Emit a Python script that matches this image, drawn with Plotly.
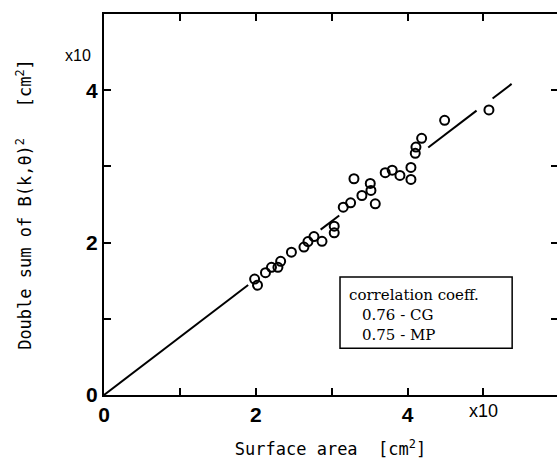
import plotly.graph_objects as go

# Data (units of x10 cm^2)
surface_area = [1.985, 2.023, 2.128, 2.207, 2.292, 2.328, 2.470, 2.635, 2.688, 2.767,
                2.873, 3.034, 3.034, 3.153, 3.250, 3.294, 3.399, 3.509, 3.518, 3.575,
                3.706, 3.798, 3.900, 4.045, 4.045, 4.102, 4.111, 4.186, 4.489, 5.073]
double_sum = [1.522, 1.441, 1.605, 1.675, 1.675, 1.754, 1.875, 1.941, 2.013, 2.079,
              2.017, 2.215, 2.128, 2.465, 2.522, 2.838, 2.618, 2.776, 2.684, 2.509,
              2.917, 2.951, 2.882, 2.987, 2.829, 3.171, 3.254, 3.368, 3.605, 3.741]

# Regression line through origin, drawn in broken segments
fit_slope = 0.76
fit_segments = [(0.0, 1.90), (2.855, 3.10), (4.273, 4.91), (5.121, 5.372)]

x_tickvals = [0, 1, 2, 3, 4, 5]
x_ticktext = ["0", "", "2", "", "4", ""]
y_tickvals = [0, 1, 2, 3, 4]
y_ticktext = ["0", "", "2", "", "4"]

legend_title = "correlation coeff."
legend_lines = ["0.76 - CG", "0.75 - MP"]

line_x, line_y = [], []
for a, b in fit_segments:
    line_x += [a, b, None]
    line_y += [fit_slope * a, fit_slope * b, None]

fig = go.Figure()
fig.add_trace(go.Scatter(x=line_x, y=line_y, mode="lines",
                         line=dict(color="black", width=2), hoverinfo="skip"))
fig.add_trace(go.Scatter(x=surface_area, y=double_sum, mode="markers",
                         marker=dict(symbol="circle-open", size=9, color="black",
                                     line=dict(width=2, color="black"))))
fig.add_trace(go.Scatter(x=[], y=[], yaxis="y2"))

tickfont = dict(family="Liberation Sans", size=21, color="black", weight="bold")
mono = "DejaVu Sans Mono"

fig.update_layout(
    width=557, height=461,
    margin=dict(l=104, r=0, t=14, b=66),
    paper_bgcolor="white", plot_bgcolor="white",
    showlegend=False,
    xaxis=dict(range=[0, 5.97], tickvals=x_tickvals, ticktext=x_ticktext,
               ticks="inside", ticklen=7, tickwidth=1.5, tickcolor="black",
               showline=True, linecolor="black", linewidth=2, mirror="ticks",
               showgrid=False, zeroline=False, tickfont=tickfont,
               title=dict(text="Surface area  [cm<sup>2</sup>]",
                          font=dict(family=mono, size=17, color="black"), standoff=18)),
    yaxis=dict(range=[0, 5.0], tickvals=y_tickvals, ticktext=y_ticktext,
               ticks="inside", ticklen=7, tickwidth=1.5, tickcolor="black",
               showline=True, linecolor="black", linewidth=2,
               showgrid=False, zeroline=False, tickfont=tickfont,
               title=dict(text="Double sum of B(k,\u03b8)<sup>2</sup>   [cm<sup>2</sup>]",
                          font=dict(family=mono, size=17, color="black"), standoff=50)),
    yaxis2=dict(range=[0, 5.0], overlaying="y", side="right", tickvals=[1, 2, 3, 4],
                ticks="inside", ticklen=6, tickwidth=1.5, tickcolor="black",
                showticklabels=False, showline=False, showgrid=False, zeroline=False),
)

# multiplier labels
fig.add_annotation(text="x10", xref="paper", yref="paper", x=-0.057, y=0.892,
                   xanchor="center", yanchor="middle", showarrow=False,
                   font=dict(family="Liberation Sans", size=16, color="black"))
fig.add_annotation(text="x10", xref="x", yref="paper", x=5, y=-0.042,
                   xanchor="center", yanchor="middle", showarrow=False,
                   font=dict(family="Liberation Sans", size=18, color="black"))

# correlation box
fig.add_shape(type="rect", xref="paper", yref="paper", x0=0.521, x1=0.901, y0=0.123, y1=0.310,
              line=dict(color="black", width=1.5), fillcolor="white")
serif = dict(family="DejaVu Serif", size=15, color="black")
fig.add_annotation(text=legend_title, xref="paper", yref="paper", x=0.537, y=0.262,
                   xanchor="left", yanchor="middle", showarrow=False, font=serif)
for i, t in enumerate(legend_lines):
    fig.add_annotation(text=t, xref="paper", yref="paper", x=0.566, y=0.210 - i * 0.053,
                       xanchor="left", yanchor="middle", showarrow=False, font=serif)

fig.write_html("out.html")
